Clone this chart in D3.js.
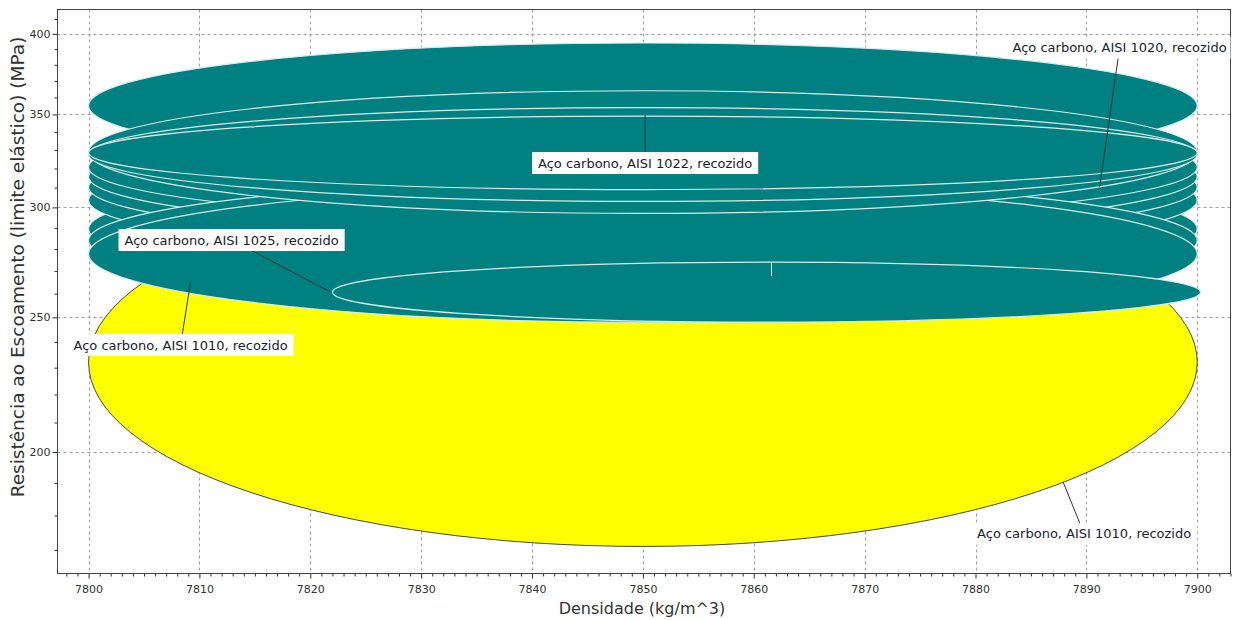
<!DOCTYPE html>
<html>
<head>
<meta charset="utf-8">
<script src="https://cdn.jsdelivr.net/npm/d3@7"></script>
<style>
body { margin: 0; background: #fff; }
svg { display: block; font-family: "DejaVu Sans", Verdana, sans-serif; }
</style>
</head>
<body>
<div id="chart"></div>
<script>
// tick values
const xTicks = [7800, 7810, 7820, 7830, 7840, 7850, 7860, 7870, 7880, 7890, 7900];
const yTicks = [200, 250, 300, 350, 400];

// highlighted record (yellow)
const hlName = 'Aço carbono, AISI 1010, recozido';
const hlDensity = [7800, 7900];
const hlYield = [171, 315];

// other records (teal), in drawing order
const tealNames = [
    'Aço carbono, AISI 1015, recozido',
    'Aço carbono, AISI 1016, recozido',
    'Aço carbono, AISI 1017, recozido',
    'Aço carbono, AISI 1018, recozido',
    'Aço carbono, AISI 1019, recozido',
    'Aço carbono, AISI 1026, recozido',
    'Aço carbono, AISI 1010, recozido',
    'Aço carbono, AISI 1023, recozido',
    'Aço carbono, AISI 1021, recozido',
    'Aço carbono, AISI 1020, recozido',
    'Aço carbono, AISI 1022, recozido',
    'Aço carbono, AISI 1025, recozido'
];
const tealDensMin = [7800, 7800, 7800, 7800, 7800, 7800, 7800, 7800, 7800, 7800, 7800, 7822];
const tealDensMax = [7900, 7900, 7900, 7900, 7900, 7900, 7900, 7900, 7900, 7900, 7900, 7900.3];
const tealYieldMin = [262, 276, 283, 288, 293, 257, 248, 320, 297, 303, 309, 248];
const tealYieldMax = [320, 334, 340, 346, 351, 314, 311, 394, 364, 354, 349, 274];

// annotations: label centre and the point the leader goes to
const labelText = [
    'Aço carbono, AISI 1020, recozido',
    'Aço carbono, AISI 1022, recozido',
    'Aço carbono, AISI 1025, recozido',
    'Aço carbono, AISI 1010, recozido',
    hlName
];
const labelX = [7893.0, 7850.2, 7812.9, 7808.3, 7889.8];
const labelY = [391.0, 322.9, 284.2, 238.8, 174.6];
const pointX = [7891.2, 7850.2, 7821.8, 7809.2, 7887.9];
const pointY = [310.4, 349.6, 260.8, 265.0, 190.3];

const width = 1236;
const height = 620;
const pLeft = 57.5, pRight = 1230.5, pTop = 9.5, pBottom = 573.5;

const svg = d3.select('#chart')
    .append('svg')
    .attr('width', width)
    .attr('height', height);

svg.append('rect').attr('width', width).attr('height', height).attr('fill', '#fff');

const x = d3.scaleLinear().domain([7797.2, 7903]).range([pLeft, pRight]);
const y = d3.scaleLog().domain([163.5, 416.5]).range([pBottom, pTop]);

svg.append('clipPath').attr('id', 'plot')
    .append('rect')
    .attr('x', pLeft).attr('y', pTop)
    .attr('width', pRight - pLeft).attr('height', pBottom - pTop);

const crisp = v => Math.round(v) + 0.5;

// grid
const grid = svg.append('g').attr('clip-path', 'url(#plot)')
    .attr('stroke', '#a0a0a0').attr('stroke-dasharray', '3,3');
grid.selectAll('.gx').data(xTicks).join('line')
    .attr('class', 'gx')
    .attr('x1', d => crisp(x(d))).attr('x2', d => crisp(x(d)))
    .attr('y1', pTop).attr('y2', pBottom);
grid.selectAll('.gy').data(yTicks).join('line')
    .attr('class', 'gy')
    .attr('y1', d => crisp(y(d))).attr('y2', d => crisp(y(d)))
    .attr('x1', pLeft).attr('x2', pRight);

// bubbles
const ell = (d0, d1, s0, s1) => ({
    cx: (x(d0) + x(d1)) / 2,
    rx: (x(d1) - x(d0)) / 2,
    cy: (y(s0) + y(s1)) / 2,
    ry: (y(s0) - y(s1)) / 2
});

const bubbles = svg.append('g').attr('clip-path', 'url(#plot)');

const hl = ell(hlDensity[0], hlDensity[1], hlYield[0], hlYield[1]);
bubbles.append('ellipse')
    .attr('cx', hl.cx).attr('cy', hl.cy).attr('rx', hl.rx).attr('ry', hl.ry)
    .attr('fill', '#ffff00').attr('stroke', '#333').attr('stroke-width', 0.9);

const teal = tealNames.map((n, i) => Object.assign({ name: n },
    ell(tealDensMin[i], tealDensMax[i], tealYieldMin[i], tealYieldMax[i])));

bubbles.selectAll('.teal').data(teal).join('ellipse')
    .attr('class', 'teal')
    .attr('cx', d => d.cx).attr('cy', d => d.cy)
    .attr('rx', d => d.rx).attr('ry', d => d.ry)
    .attr('fill', '#008080').attr('stroke', '#d6ecea').attr('stroke-width', 1.2);

// small white mark near the top of the last bubble
const last = teal[teal.length - 1];
bubbles.append('line')
    .attr('x1', crisp(last.cx + 4)).attr('x2', crisp(last.cx + 4))
    .attr('y1', last.cy - last.ry).attr('y2', last.cy - last.ry + 14)
    .attr('stroke', '#fff').attr('stroke-width', 1);

// frame
svg.append('rect')
    .attr('x', pLeft).attr('y', pTop)
    .attr('width', pRight - pLeft).attr('height', pBottom - pTop)
    .attr('fill', 'none').attr('stroke', '#444');

// axes
const minorX = d3.range(7798, 7904).filter(v => v % 10 !== 0);
const minorY = d3.range(170, 420, 10).filter(v => v % 50 !== 0);

const styleAxis = g => {
    g.select('.domain').remove();
    g.selectAll('line').attr('stroke', '#333');
    g.selectAll('text').attr('fill', '#333').style('font-size', '11px')
        .style('font-family', '"DejaVu Sans", Verdana, sans-serif');
};

svg.append('g').attr('transform', `translate(0,${pBottom})`)
    .call(d3.axisBottom(x).tickValues(minorX).tickSize(3).tickFormat(''))
    .call(styleAxis);
svg.append('g').attr('transform', `translate(0,${pBottom})`)
    .call(d3.axisBottom(x).tickValues(xTicks).tickSize(5).tickPadding(7).tickFormat(d3.format('d')))
    .call(styleAxis);

svg.append('g').attr('transform', `translate(${pLeft},0)`)
    .call(d3.axisLeft(y).tickValues(minorY).tickSize(3).tickFormat(''))
    .call(styleAxis);
svg.append('g').attr('transform', `translate(${pLeft},0)`)
    .call(d3.axisLeft(y).tickValues(yTicks).tickSize(5).tickPadding(2).tickFormat(d3.format('d')))
    .call(styleAxis);

// axis titles
svg.append('text')
    .attr('x', 642).attr('y', 614)
    .attr('text-anchor', 'middle')
    .attr('fill', '#333').style('font-size', '16px')
    .text('Densidade (kg/m^3)');

svg.append('text')
    .attr('transform', 'translate(24,267) rotate(-90)')
    .attr('text-anchor', 'middle')
    .attr('fill', '#333').style('font-size', '18.5px')
    .text('Resistência ao Escoamento (limite elástico) (MPa)');

// labels with leader lines
const notes = svg.append('g').attr('clip-path', 'url(#plot)');
labelText.forEach((t, i) => {
    const lx = x(labelX[i]), ly = y(labelY[i]);
    notes.append('line')
        .attr('x1', lx).attr('y1', ly)
        .attr('x2', x(pointX[i])).attr('y2', y(pointY[i]))
        .attr('stroke', '#333').attr('stroke-width', 1);
    const box = notes.append('rect').attr('fill', '#fff');
    const txt = notes.append('text')
        .attr('x', lx).attr('y', ly)
        .attr('text-anchor', 'middle')
        .attr('dominant-baseline', 'central')
        .attr('fill', '#1c1c30')
        .style('font-size', '13px')
        .text(t);
    const bb = txt.node().getBBox();
    box.attr('x', bb.x - 6).attr('y', ly - 11)
        .attr('width', bb.width + 12).attr('height', 22);
});
</script>
</body>
</html>
